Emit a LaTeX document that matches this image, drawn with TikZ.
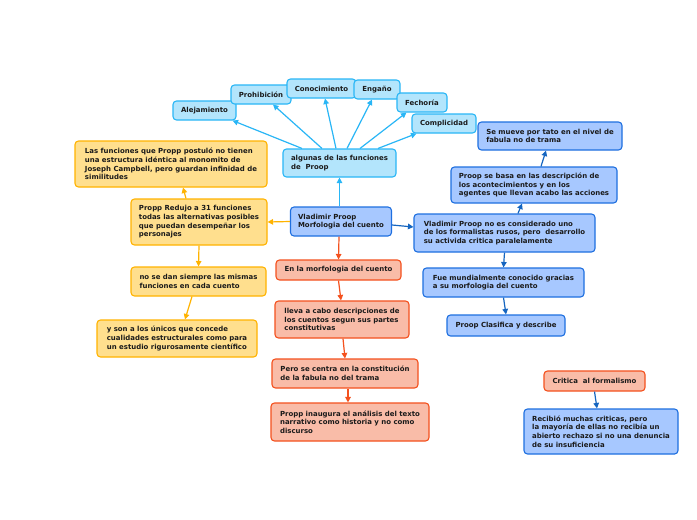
\documentclass[tikz,border=0pt]{standalone}
\usepackage{fontspec}
\setmainfont{DejaVu Sans}
\usetikzlibrary{arrows.meta}
\definecolor{lbfill}{HTML}{B3E5FC}
\definecolor{lbline}{HTML}{29B6F6}
\definecolor{bfill}{HTML}{A7C8FF}
\definecolor{bline}{HTML}{1E6FE0}
\definecolor{barrow}{HTML}{1565C0}
\definecolor{yfill}{HTML}{FFDF8E}
\definecolor{yline}{HTML}{FFB300}
\definecolor{rfill}{HTML}{F9BCA8}
\definecolor{rline}{HTML}{F4511E}
\definecolor{txt}{HTML}{1A1A1A}
\tikzset{
  bx/.style 2 args={minimum width=#1pt, minimum height=#2pt, rounded corners=3.5pt,
    line width=1.1pt, align=left, inner sep=0pt, text=txt,
    font=\fontsize{6.95}{8.7}\selectfont\bfseries},
  lbnode/.style={draw=lbline, fill=lbfill},
  bnode/.style={draw=bline, fill=bfill},
  ynode/.style={draw=yline, fill=yfill},
  rnode/.style={draw=rline, fill=rfill},
  arr/.style={line width=1.2pt, -{Triangle[length=5.5pt,width=5.5pt]}},
  lbarr/.style={arr, draw=lbline},
  barr/.style={arr, draw=barrow},
  yarr/.style={arr, draw=yline},
  rarr/.style={arr, draw=rline}
}
\begin{document}
\begin{tikzpicture}[x=1pt,y=-1pt]
\useasboundingbox (0,0) rectangle (697,520);
\fill[white] (0,0) rectangle (697,520);

% light blue functions
\node[bx={63}{19}, lbnode] (ale) at (204.5,110.5) {Alejamiento};
\node[bx={60}{19}, lbnode] (pro) at (261,94.5) {Prohibición};
\node[bx={69}{19}, lbnode] (con) at (321.5,88.5) {Conocimiento};
\node[bx={46}{19}, lbnode] (eng) at (377,89.5) {Engaño};
\node[bx={50}{19}, lbnode] (fec) at (422,102.5) {Fechoría};
\node[bx={64}{19}, lbnode] (com) at (444,123.5) {Complicidad};
\node[bx={113}{28}, lbnode] (alg) at (339.5,163) {algunas de las funciones\\de\ \ Proop};

% yellow
\node[bx={192}{46}, ynode] (las) at (171,164) {Las funciones que Propp postuló no tienen\\una estructura idéntica al monomito de\\Joseph Campbell, pero guardan infinidad de\\similitudes};
\node[bx={136}{46}, ynode] (red) at (199,222) {Propp Redujo a 31 funciones\\todas las alternativas posibles\\que puedan desempeñar los\\personajes};
\node[bx={135}{29}, ynode] (nose) at (198.5,281.5) {no se dan siempre las mismas\\funciones en cada cuento};
\node[bx={160}{37}, ynode] (yson) at (177,338.5) {y son a los únicos que concede\\cualidades estructurales como para\\un estudio rigurosamente científico};

% blue
\node[bx={101}{29}, bnode] (vla) at (341,221.5) {Vladimir Proop\\Morfologia del cuento};
\node[bx={181}{38}, bnode] (noes) at (504.5,233) {Vladimir Proop no es considerado uno\\de los formalistas rusos, pero\ \ desarrollo\\su activida critica paralelamente};
\node[bx={166}{36}, bnode] (bas) at (534,185) {Proop se basa en las descripción de\\los acontecimientos y en los\\agentes que llevan acabo las acciones};
\node[bx={144}{28}, bnode] (mue) at (550,136) {Se mueve por tato en el nivel de\\fabula no de trama};
\node[bx={161}{29}, bnode] (fue) at (503.5,282.5) {Fue mundialmente conocido gracias\\a su morfologia del cuento};
\node[bx={118}{21}, bnode] (cla) at (506,325.5) {Proop Clasifica y describe};
\node[bx={154}{45}, bnode] (rec) at (601,431.5) {Recibió muchas criticas, pero\\la mayoría de ellas no recibía un\\abierto rechazo si no una denuncia\\de su insuficiencia};

% red
\node[bx={125}{20}, rnode] (enla) at (338.5,270) {En la morfologia del cuento};
\node[bx={134}{37}, rnode] (lle) at (342,319.5) {lleva a cabo descripciones de\\los cuentos segun sus partes\\constitutivas};
\node[bx={146}{29}, rnode] (per) at (345,373.5) {Pero se centra en la constitución\\de la fabula no del trama};
\node[bx={158}{38}, rnode] (ina) at (350,422) {Propp inaugura el análisis del texto\\narrativo como historia y no como\\discurso};
\node[bx={101}{20}, rnode] (cri) at (594.5,381) {Critica\ \ al formalismo};

% fan of functions
\draw[lbarr] ([xshift=-37.5pt]alg.north) -- ([xshift=-4pt]ale.south east);
\draw[lbarr] ([xshift=-17.5pt]alg.north) -- ([xshift=12pt]pro.south);
\draw[lbarr] ([xshift=-3.5pt]alg.north) -- ([xshift=3.5pt]con.south);
\draw[lbarr] ([xshift=7.5pt]alg.north) -- ([xshift=-5pt]eng.south);
\draw[lbarr] ([xshift=20.5pt]alg.north) -- ([xshift=10pt]fec.south west);
\draw[lbarr] ([xshift=38.5pt]alg.north) -- ([xshift=5pt]com.south west);
\draw[lbarr] (vla.north -| alg.south) -- (alg.south);

% yellow arrows
\draw[yarr] (vla.west) -- (red.east);
\draw[yarr] ([xshift=-13pt]red.north) -- ([xshift=12pt]las.south);
\draw[yarr] (red.south) -- (nose.north);
\draw[yarr] ([xshift=-6.5pt]nose.south) -- ([xshift=8pt]yson.north);

% red arrows
\draw[rarr] ([xshift=-2pt]vla.south) -- (enla.north);
\draw[rarr] (enla.south) -- ([xshift=-1pt]lle.north);
\draw[rarr] ([xshift=1pt]lle.south) -- (per.north);
\draw[rarr] ([xshift=3pt]per.south) -- ([xshift=-2pt]ina.north);

% blue arrows
\draw[barr] ([yshift=-3.5pt]vla.east) -- ([yshift=6pt]noes.west);
\draw[barr] ([xshift=13.5pt]noes.north) -- ([xshift=-12pt]bas.south);
\draw[barr] ([xshift=7pt]bas.north) -- ([xshift=-4pt]mue.south);
\draw[barr] (noes.south) -- (fue.north);
\draw[barr] (fue.south) -- (cla.north);
\draw[barr] (cri.south) -- ([xshift=-4pt]rec.north);
\end{tikzpicture}
\end{document}
